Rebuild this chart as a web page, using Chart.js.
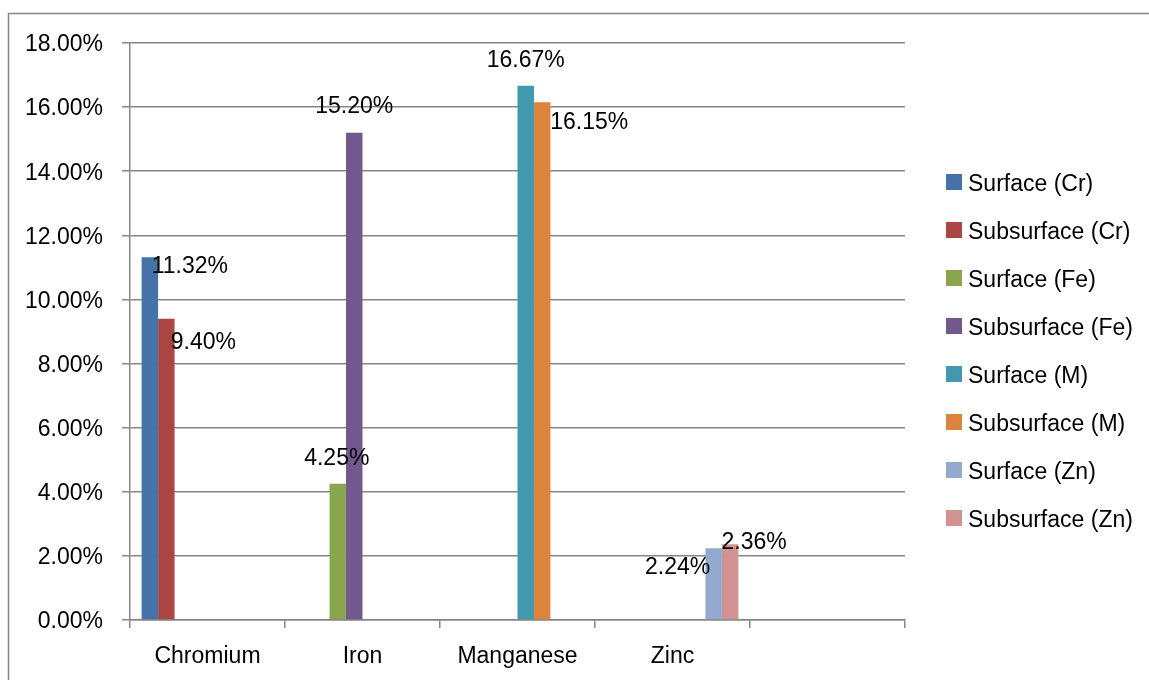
<!DOCTYPE html>
<html>
<head>
<meta charset="utf-8">
<script src="https://cdn.jsdelivr.net/npm/chart.js@4.4.1/dist/chart.umd.min.js"></script>
<style>
  html, body { margin: 0; padding: 0; background: #ffffff; }
  #wrap { position: relative; width: 1149px; height: 680px; }
</style>
</head>
<body>
<div id="wrap"><canvas id="c" width="1149" height="680"></canvas></div>
<script>
// ---- Data ----
const categories = ["Chromium", "Iron", "Manganese", "Zinc", ""];
const seriesNames = ["Surface (Cr)", "Subsurface (Cr)", "Surface (Fe)", "Subsurface (Fe)",
                     "Surface (M)", "Subsurface (M)", "Surface (Zn)", "Subsurface (Zn)"];
const surfaceCr    = [11.32, null, null, null, null];
const subsurfaceCr = [9.40, null, null, null, null];
const surfaceFe    = [null, 4.25, null, null, null];
const subsurfaceFe = [null, 15.20, null, null, null];
const surfaceM     = [null, null, 16.67, null, null];
const subsurfaceM  = [null, null, 16.15, null, null];
const surfaceZn    = [null, null, null, 2.24, null];
const subsurfaceZn = [null, null, null, 2.36, null];
const yTicks = [0, 2, 4, 6, 8, 10, 12, 14, 16, 18];

// ---- Styles ----
const colors = ["#4572A7", "#AA4643", "#89A54E", "#71588F", "#4198AF", "#DB843D", "#93A9CF", "#D19392"];
// label offsets (px) relative to top-centre of each bar
const labelOffsets = [[40, 10], [37, 24], [-1, -25], [0, -26], [0, -25], [47, 20], [-36, 19], [24, -2]];
const FONT = "23px 'Liberation Sans', Arial, sans-serif";
const GRID = "#868686";

const allSeries = [surfaceCr, subsurfaceCr, surfaceFe, subsurfaceFe, surfaceM, subsurfaceM, surfaceZn, subsurfaceZn];
const datasets = allSeries.map((d, i) => ({
  label: seriesNames[i],
  data: d,
  backgroundColor: colors[i],
  borderWidth: 0,
  categoryPercentage: 0.85,
  barPercentage: 1.0
}));

const fmt = v => v.toFixed(2) + "%";

const decorPlugin = {
  id: "decor",
  afterDatasetsDraw(chart) {
    const ctx = chart.ctx;
    ctx.save();
    // data labels
    ctx.font = FONT;
    ctx.fillStyle = "#000";
    ctx.textAlign = "center";
    ctx.textBaseline = "middle";
    chart.data.datasets.forEach((ds, i) => {
      const meta = chart.getDatasetMeta(i);
      ds.data.forEach((v, j) => {
        if (v === null) return;
        const el = meta.data[j];
        ctx.fillText(fmt(v), el.x + labelOffsets[i][0], el.y + labelOffsets[i][1]);
      });
    });
    // legend
    ctx.textAlign = "left";
    chart.data.datasets.forEach((ds, i) => {
      const y = 182 + i * 48;
      ctx.fillStyle = ds.backgroundColor;
      ctx.fillRect(946, y - 8, 16, 16);
      ctx.fillStyle = "#000";
      ctx.fillText(ds.label, 968, y + 3);
    });
    // outer frame
    ctx.strokeStyle = GRID;
    ctx.lineWidth = 1.5;
    ctx.beginPath();
    ctx.moveTo(8.5, 680);
    ctx.lineTo(8.5, 13.5);
    ctx.lineTo(1149, 13.5);
    ctx.stroke();
    ctx.restore();
  }
};

new Chart(document.getElementById("c"), {
  type: "bar",
  data: { labels: categories, datasets },
  options: {
    responsive: false,
    animation: false,
    layout: { padding: { left: 0, top: 43, right: 244, bottom: 0 } },
    plugins: { legend: { display: false }, tooltip: { enabled: false } },
    scales: {
      x: {
        offset: true,
        grid: { offset: true, drawOnChartArea: false, drawTicks: true, tickLength: 8, color: GRID, lineWidth: 1.5 },
        border: { display: true, color: GRID, width: 1.5 },
        ticks: { font: { family: "'Liberation Sans', Arial, sans-serif", size: 23 }, color: "#000", padding: 15, maxRotation: 0 },
        afterFit(s) { s.height = 60; }
      },
      y: {
        min: 0, max: 18,
        afterBuildTicks(s) { s.ticks = yTicks.map(v => ({ value: v })); },
        grid: { color: GRID, lineWidth: 1.5, tickLength: 8, drawTicks: true },
        border: { display: true, color: GRID, width: 1.5 },
        ticks: { font: { family: "'Liberation Sans', Arial, sans-serif", size: 23 }, color: "#000", padding: 19,
                 labelOffset: 2, callback: v => fmt(v) },
        afterFit(s) { s.width = 130; }
      }
    }
  },
  plugins: [decorPlugin]
});
</script>
</body>
</html>
